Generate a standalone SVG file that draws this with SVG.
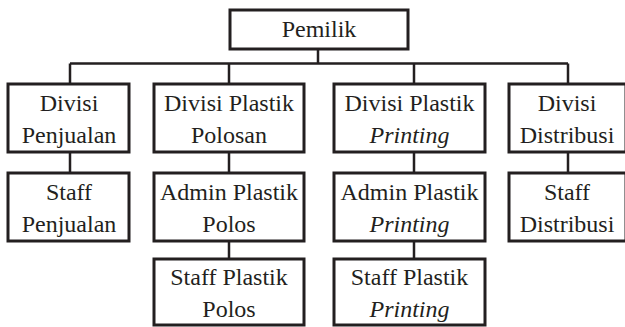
<svg xmlns="http://www.w3.org/2000/svg" width="625" height="327" viewBox="0 0 625 327">
  <style>
    .box { fill: #ffffff; stroke: #231f20; stroke-width: 3; }
    .link { fill: none; stroke: #231f20; stroke-width: 2.5; }
    .lbl { font-family: "Liberation Serif", "Times New Roman", serif; font-size: 24px; fill: #231f20; text-anchor: middle; }
    .it { font-style: italic; }
  </style>
  <rect width="625" height="327" fill="#ffffff"/>

  <g id="connectors">
    <path class="link" d="M318 49 V63.5 M70 63.5 H568 M70 63.5 V84 M229 63.5 V84 M414 63.5 V84 M568 63.5 V84"/>
    <path class="link" d="M70 152 V173 M229 152 V173 M414 152 V173 M568 152 V173"/>
    <path class="link" d="M229 241 V259 M414 241 V259"/>
  </g>

  <g id="pemilik">
    <rect class="box" x="230" y="10" width="178" height="39"/>
    <text class="lbl" x="319" y="37">Pemilik</text>
  </g>

  <g id="divisi-penjualan">
    <rect class="box" x="8" y="84" width="121" height="68"/>
    <text class="lbl" x="69" y="110.5">Divisi</text>
    <text class="lbl" x="69" y="142.5">Penjualan</text>
  </g>

  <g id="divisi-plastik-polosan">
    <rect class="box" x="154" y="84" width="150" height="68"/>
    <text class="lbl" x="229" y="110.5">Divisi Plastik</text>
    <text class="lbl" x="229" y="142.5">Polosan</text>
  </g>

  <g id="divisi-plastik-printing">
    <rect class="box" x="334" y="84" width="151" height="68"/>
    <text class="lbl" x="409.5" y="110.5">Divisi Plastik</text>
    <text class="lbl it" x="409.5" y="142.5">Printing</text>
  </g>

  <g id="divisi-distribusi">
    <rect class="box" x="509" y="84" width="117" height="68"/>
    <text class="lbl" x="567" y="110.5">Divisi</text>
    <text class="lbl" x="567" y="142.5">Distribusi</text>
  </g>

  <g id="staff-penjualan">
    <rect class="box" x="8" y="173" width="121" height="68"/>
    <text class="lbl" x="69" y="199.5">Staff</text>
    <text class="lbl" x="69" y="231.5">Penjualan</text>
  </g>

  <g id="admin-plastik-polos">
    <rect class="box" x="154" y="173" width="150" height="68"/>
    <text class="lbl" x="229" y="199.5">Admin Plastik</text>
    <text class="lbl" x="229" y="231.5">Polos</text>
  </g>

  <g id="admin-plastik-printing">
    <rect class="box" x="334" y="173" width="151" height="68"/>
    <text class="lbl" x="409.5" y="199.5">Admin Plastik</text>
    <text class="lbl it" x="409.5" y="231.5">Printing</text>
  </g>

  <g id="staff-distribusi">
    <rect class="box" x="509" y="173" width="117" height="68"/>
    <text class="lbl" x="567" y="199.5">Staff</text>
    <text class="lbl" x="567" y="231.5">Distribusi</text>
  </g>

  <g id="staff-plastik-polos">
    <rect class="box" x="154" y="259" width="150" height="66"/>
    <text class="lbl" x="229" y="284.5">Staff Plastik</text>
    <text class="lbl" x="229" y="316.5">Polos</text>
  </g>

  <g id="staff-plastik-printing">
    <rect class="box" x="334" y="259" width="151" height="66"/>
    <text class="lbl" x="409.5" y="284.5">Staff Plastik</text>
    <text class="lbl it" x="409.5" y="316.5">Printing</text>
  </g>
</svg>
